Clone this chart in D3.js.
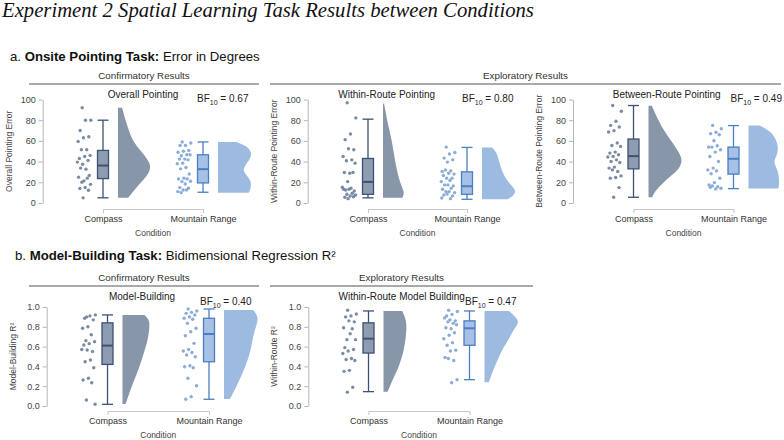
<!DOCTYPE html>
<html>
<head>
<meta charset="utf-8">
<script src="https://cdn.jsdelivr.net/npm/d3@7"></script>
<style>
  body { margin: 0; background: #fff; }
  text { font-family: 'Liberation Sans', Arial, sans-serif; }
</style>
</head>
<body>
<svg id="chart" width="784" height="440"></svg>
<script>
const categories = ['Compass', 'Mountain Range']
const pointingTicks = [0, 20, 40, 60, 80, 100]
const r2Ticks = [0, 0.2, 0.4, 0.6, 0.8, 1.0]

// Onsite pointing: overall error (degrees)
const overallCompass = [92, 80, 80, 70, 64, 63, 59.5, 51.5, 51.5, 46, 45, 43, 41, 37.5, 39.5, 32.7, 33.7, 26.5, 21.4, 25, 24, 20, 18, 15, 14, 12.3, 5]
const overallMountain = [59, 58, 55.6, 55.6, 50.8, 50, 49, 46.6, 45.6, 46.6, 42.4, 42.4, 41.7, 38.5, 37.9, 34.3, 33, 28, 24, 23.3, 23.3, 20.7, 21, 18.4, 14.9, 14.3, 12.6, 11, 12.6, 10]
// boxes: [lower whisker, q1, median, q3, upper whisker]
const overallCompassBox = [5, 23.6, 36.2, 50.8, 80]
const overallMountainBox = [10.4, 19.4, 32.7, 46.6, 59]
// half-violin profiles: [value, relative density]
const overallCompassDensity = [[92, 0.12], [85, 0.18], [80, 0.22], [70, 0.32], [60, 0.43], [50, 0.68], [40, 0.92], [33, 0.97], [25, 0.83], [20, 0.67], [10, 0.42], [5, 0.3]]
const overallMountainDensity = [[59, 0.55], [55, 0.85], [50, 0.97], [45, 0.98], [40, 0.88], [35, 0.78], [32, 0.74], [28, 0.8], [22, 0.96], [17, 0.98], [12, 0.94], [10, 0.9]]

// within-route pointing
const withinCompass = [96.8, 82.2, 66.7, 61.2, 51.5, 52.4, 45, 41.7, 40.8, 38.5, 28.8, 29.4, 29.4, 20.7, 15.2, 14.3, 12.6, 11.6, 13.3, 13.3, 9.4, 8.4, 7.8, 6.8, 5.5, 6.1, 4.2]
const withinMountain = [54, 48.8, 47.3, 43.4, 41.7, 39.5, 30.4, 31, 32, 27.9, 28.8, 26.5, 24, 24, 20.7, 21.7, 17.5, 16.5, 17.5, 13.3, 14.3, 11, 10, 11, 7.8, 6.8, 8.7, 4.9, 4.2]
const withinCompassBox = [5, 8.4, 20.4, 43, 81]
const withinMountainBox = [3.6, 8.4, 16.2, 30.1, 53.7]
const withinCompassDensity = [[96, 0.03], [90, 0.07], [80, 0.12], [70, 0.19], [60, 0.26], [50, 0.31], [40, 0.36], [30, 0.42], [20, 0.5], [13, 0.59], [9, 0.62], [5, 0.57]]
const withinMountainDensity = [[53.7, 0.29], [50, 0.4], [45, 0.47], [40, 0.5], [35, 0.55], [30, 0.6], [25, 0.68], [20, 0.78], [15, 0.92], [11, 1.0], [7, 0.92], [3.6, 0.75]]

// between-route pointing
const betweenCompass = [94.2, 88.6, 79, 75, 73.5, 69.9, 68.6, 58, 55.6, 54.7, 49.2, 48.2, 46.6, 45, 44.4, 41.7, 40.1, 39.1, 34.7, 33.7, 30.4, 32, 26.2, 24.6, 24, 14.9, 5.5]
const betweenMountain = [75, 71.8, 68.3, 67, 66, 60.2, 54, 55.3, 54, 51.5, 49.2, 45, 40.1, 33.7, 32, 31, 28.2, 24, 19.7, 17.5, 15.8, 16.5, 14.3, 13.6, 15.2]
const betweenCompassBox = [5.5, 33, 45.3, 61.8, 94.2]
const betweenMountainBox = [13.9, 27.9, 42.7, 54, 74.8]
const betweenCompassDensity = [[94, 0.1], [90, 0.15], [80, 0.29], [70, 0.45], [60, 0.67], [50, 0.88], [42, 1.0], [35, 0.93], [30, 0.81], [20, 0.43], [11, 0.18], [5.5, 0.11]]
const betweenMountainDensity = [[74.8, 0.32], [72, 0.5], [68, 0.68], [62, 0.8], [55, 0.87], [48, 0.86], [42, 0.76], [38, 0.76], [32, 0.85], [25, 0.9], [18, 0.9], [13.9, 0.88]]

// model-building R2
const modelCompass = [0.9, 0.92, 0.91, 0.886, 0.87, 0.8, 0.785, 0.72, 0.66, 0.65, 0.63, 0.616, 0.55, 0.566, 0.57, 0.465, 0.447, 0.387, 0.28, 0.263, 0.235, 0.06, 0.017]
const modelMountain = [0.98, 0.96, 0.946, 0.936, 0.92, 0.9, 0.886, 0.876, 0.835, 0.785, 0.75, 0.71, 0.633, 0.57, 0.556, 0.54, 0.515, 0.498, 0.407, 0.397, 0.387, 0.28, 0.205, 0.094, 0.068]
const modelCompassBox = [0.017, 0.42, 0.61, 0.84, 0.92]
const modelMountainBox = [0.068, 0.447, 0.727, 0.886, 0.98]
const modelCompassDensity = [[0.92, 0.64], [0.88, 0.76], [0.84, 0.8], [0.75, 0.78], [0.65, 0.73], [0.55, 0.64], [0.45, 0.55], [0.35, 0.45], [0.25, 0.33], [0.15, 0.22], [0.05, 0.12], [0.02, 0.09]]
const modelMountainDensity = [[0.97, 0.86], [0.92, 0.97], [0.87, 1.0], [0.8, 0.94], [0.7, 0.85], [0.6, 0.81], [0.5, 0.73], [0.4, 0.63], [0.3, 0.5], [0.2, 0.37], [0.1, 0.22], [0.07, 0.17]]

// within-route model-building R2
const routeCompass = [0.967, 0.93, 0.91, 0.9, 0.85, 0.86, 0.79, 0.78, 0.67, 0.67, 0.73, 0.59, 0.57, 0.555, 0.53, 0.48, 0.47, 0.46, 0.36, 0.35, 0.19, 0.14]
const routeMountain = [0.967, 0.955, 0.925, 0.91, 0.86, 0.87, 0.89, 0.835, 0.85, 0.82, 0.78, 0.79, 0.74, 0.715, 0.68, 0.64, 0.613, 0.564, 0.555, 0.49, 0.46, 0.48, 0.266, 0.235]
const routeCompassBox = [0.145, 0.535, 0.68, 0.84, 0.96]
const routeMountainBox = [0.266, 0.613, 0.785, 0.86, 0.96]
const routeCompassDensity = [[0.96, 0.55], [0.9, 0.63], [0.83, 0.68], [0.75, 0.67], [0.67, 0.65], [0.58, 0.6], [0.5, 0.55], [0.4, 0.45], [0.33, 0.36], [0.25, 0.25], [0.18, 0.17], [0.145, 0.12]]
const routeMountainDensity = [[0.96, 0.71], [0.92, 0.85], [0.88, 0.96], [0.85, 1.0], [0.8, 0.93], [0.75, 0.82], [0.67, 0.71], [0.6, 0.57], [0.5, 0.43], [0.4, 0.3], [0.33, 0.22], [0.28, 0.17], [0.24, 0.13]]

const colors = {
  violin: ['#8896aa', '#9dbae0'],
  box: ['#8e9cb1', '#a6c1e5'],
  stroke: ['#3d5273', '#4c7ec2'],
  point: ['#6b7e9a', '#80a3d4']
}

const rows = [
  { top: 99.5, bottom: 203, domain: [0, 100], ticks: pointingTicks, fmt: d3.format('d'), axisY: 209, condY: 236, titleY: 97.5, bfY: 101.5 },
  { top: 307, bottom: 406, domain: [0, 1], ticks: r2Ticks, fmt: d3.format('.1f'), axisY: 411, condY: 437.5, titleY: 300, bfY: 304.5 }
]

const panels = [
  { row: 0, axisX: 42.7, cx: [103, 203], title: 'Overall Pointing', titleX: 143, bf: '0.67', bfX: 197, yLabel: 'Overall Pointing Error',
    values: [overallCompass, overallMountain], boxes: [overallCompassBox, overallMountainBox], dens: [overallCompassDensity, overallMountainDensity] },
  { row: 0, axisX: 307.7, cx: [368, 467], title: 'Within-Route Pointing', titleX: 386.7, bf: '0.80', bfX: 462, yLabel: 'Within-Route Pointing Error',
    values: [withinCompass, withinMountain], boxes: [withinCompassBox, withinMountainBox], dens: [withinCompassDensity, withinMountainDensity] },
  { row: 0, axisX: 573, cx: [633.5, 733.5], title: 'Between-Route Pointing', titleX: 666.7, bf: '0.49', bfX: 730.5, yLabel: 'Between-Route Pointing Error',
    values: [betweenCompass, betweenMountain], boxes: [betweenCompassBox, betweenMountainBox], dens: [betweenCompassDensity, betweenMountainDensity] },
  { row: 1, axisX: 46.7, cx: [107.5, 209], title: 'Model-Building', titleX: 142, bf: '0.40', bfX: 200, yLabel: 'Model-Building R²',
    values: [modelCompass, modelMountain], boxes: [modelCompassBox, modelMountainBox], dens: [modelCompassDensity, modelMountainDensity] },
  { row: 1, axisX: 308.3, cx: [368.5, 469.5], title: 'Within-Route Model Building', titleX: 401.7, bf: '0.47', bfX: 465, yLabel: 'Within-Route R²',
    values: [routeCompass, routeMountain], boxes: [routeCompassBox, routeMountainBox], dens: [routeCompassDensity, routeMountainDensity] }
]

const svg = d3.select('#chart')

// headings
svg.append('text')
  .attr('x', 2).attr('y', 17)
  .style('font-family', "'Liberation Serif', 'Times New Roman', serif")
  .style('font-style', 'italic')
  .style('font-size', '20.7px')
  .attr('fill', '#111')
  .text('Experiment 2 Spatial Learning Task Results between Conditions')

function heading(x, y, pre, bold, post) {
  const t = svg.append('text').attr('x', x).attr('y', y)
    .style('font-size', '13.2px').attr('fill', '#111')
  t.append('tspan').text(pre)
  t.append('tspan').style('font-weight', 'bold').text(bold)
  t.append('tspan').text(post)
}
heading(10, 60.5, 'a. ', 'Onsite Pointing Task:', ' Error in Degrees')
heading(15, 260, 'b. ', 'Model-Building Task:', ' Bidimensional Regression R²')

function groupLabel(x1, x2, y, label) {
  svg.append('text')
    .attr('x', (x1 + x2) / 2).attr('y', y)
    .attr('text-anchor', 'middle')
    .style('font-size', '9.8px').attr('fill', '#333')
    .text(label)
  svg.append('line')
    .attr('x1', x1).attr('x2', x2)
    .attr('y1', y + 5).attr('y2', y + 5)
    .attr('stroke', '#555').attr('stroke-width', 1)
}
groupLabel(29, 259, 79, 'Confirmatory Results')
groupLabel(270, 781, 79, 'Exploratory Results')
groupLabel(29, 259, 281, 'Confirmatory Results')
groupLabel(270, 533, 281, 'Exploratory Results')

const widthScale = d3.scaleLinear().domain([0, 1]).range([0, 34])
const jitter = i => ((i * 0.618034 + 0.37) % 1) * 2 - 1

panels.forEach(function(p) {
  const r = rows[p.row]
  const y = d3.scaleLinear().domain(r.domain).range([r.bottom, r.top])
  const x = d3.scalePoint().domain(categories).range(p.cx)
  const g = svg.append('g')

  // y axis
  const yAxis = g.append('g')
    .attr('transform', 'translate(' + p.axisX + ',0)')
    .call(d3.axisLeft(y).tickValues(r.ticks).tickFormat(r.fmt).tickSize(4).tickSizeOuter(0).tickPadding(3))
  yAxis.select('.domain').attr('stroke', '#b5b5b5')
  yAxis.selectAll('.tick line').attr('stroke', '#b5b5b5')
  yAxis.selectAll('.tick text').attr('fill', '#444').style('font-size', '9px').style('font-family', "'Liberation Sans', Arial, sans-serif")

  // x axis
  const xAxis = g.append('g')
    .attr('transform', 'translate(0,' + r.axisY + ')')
    .call(d3.axisBottom(x).tickSize(4).tickSizeOuter(0).tickPadding(3))
  xAxis.select('.domain').attr('stroke', '#c8c8c8')
  xAxis.selectAll('.tick line').attr('stroke', '#c8c8c8')
  xAxis.selectAll('.tick text').attr('fill', '#333').style('font-size', '9px').style('font-family', "'Liberation Sans', Arial, sans-serif")

  g.append('text')
    .attr('x', (p.cx[0] + p.cx[1]) / 2).attr('y', r.condY)
    .attr('text-anchor', 'middle')
    .style('font-size', '8.5px').attr('fill', '#444')
    .text('Condition')

  g.append('text')
    .attr('transform', 'translate(' + (p.axisX - 31) + ',' + (r.top + r.bottom) / 2 + ') rotate(-90)')
    .attr('text-anchor', 'middle')
    .style('font-size', '8.5px').attr('fill', '#444')
    .text(p.yLabel)

  g.append('text')
    .attr('x', p.titleX).attr('y', r.titleY)
    .attr('text-anchor', 'middle')
    .style('font-size', '10px').attr('fill', '#222')
    .text(p.title)

  const bf = g.append('text')
    .attr('x', p.bfX).attr('y', r.bfY)
    .style('font-size', '10px').attr('fill', '#222')
  bf.append('tspan').text('BF')
  bf.append('tspan').attr('dy', 3).style('font-size', '7px').text('10')
  bf.append('tspan').attr('dy', -3).text(' = ' + p.bf)

  categories.forEach(function(c, k) {
    const cx = x(c)
    const vx = cx + 15

    // half violin
    const area = d3.area()
      .y(d => y(d[0]))
      .x0(vx)
      .x1(d => vx + widthScale(d[1]))
      .curve(d3.curveBasis)
    g.append('path')
      .datum(p.dens[k])
      .attr('d', area)
      .attr('fill', colors.violin[k])

    // jittered points
    g.selectAll(null)
      .data(p.values[k])
      .enter()
      .append('circle')
      .attr('cx', (d, i) => cx - 19 + jitter(i) * 7)
      .attr('cy', d => y(d))
      .attr('r', 1.7)
      .attr('fill', colors.point[k])
      .attr('opacity', 0.9)

    // box plot
    const b = p.boxes[k]
    const bw = 11
    g.append('line')
      .attr('x1', cx).attr('x2', cx)
      .attr('y1', y(b[0])).attr('y2', y(b[4]))
      .attr('stroke', colors.stroke[k]).attr('stroke-width', 1.3)
    g.selectAll(null)
      .data([b[0], b[4]])
      .enter()
      .append('line')
      .attr('x1', cx - bw / 2).attr('x2', cx + bw / 2)
      .attr('y1', d => y(d)).attr('y2', d => y(d))
      .attr('stroke', colors.stroke[k]).attr('stroke-width', 1.3)
    g.append('rect')
      .attr('x', cx - bw / 2).attr('width', bw)
      .attr('y', y(b[3])).attr('height', y(b[1]) - y(b[3]))
      .attr('fill', colors.box[k])
      .attr('stroke', colors.stroke[k]).attr('stroke-width', 1.3)
    g.append('line')
      .attr('x1', cx - bw / 2).attr('x2', cx + bw / 2)
      .attr('y1', y(b[2])).attr('y2', y(b[2]))
      .attr('stroke', colors.stroke[k]).attr('stroke-width', 2)
  })
})
</script>
</body>
</html>
